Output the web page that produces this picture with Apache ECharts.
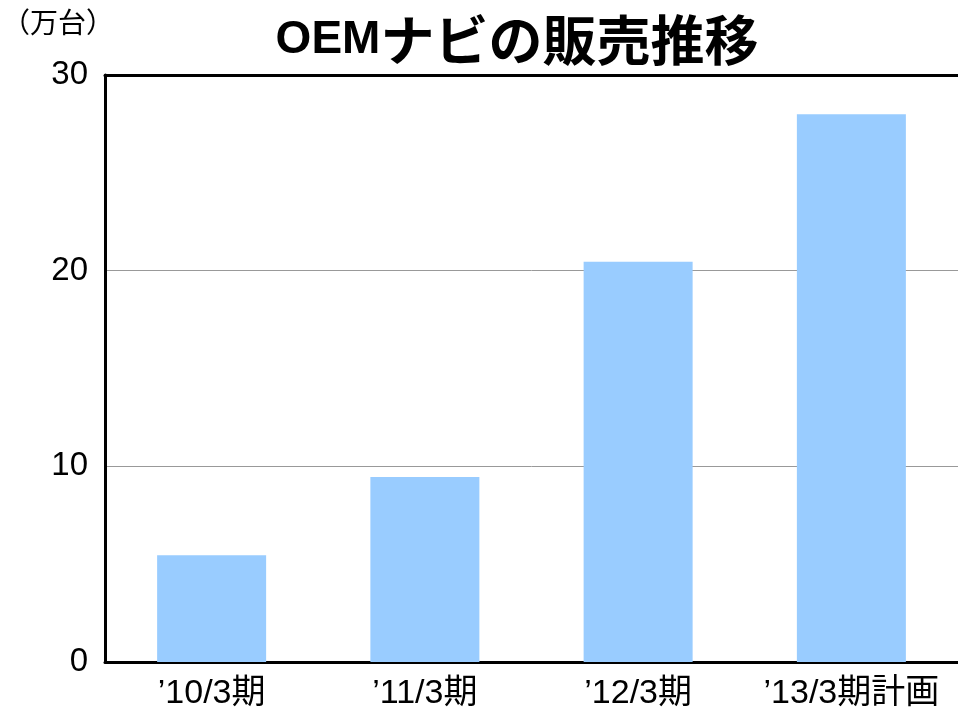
<!DOCTYPE html>
<html>
<head>
<meta charset="utf-8">
<script src="https://cdn.jsdelivr.net/npm/echarts@6/dist/echarts.min.js"></script>
<style>html,body{margin:0;padding:0;background:#fff;}#c{width:958px;height:713px;}</style>
</head>
<body>
<div id="c"></div>
<script>
const categories = ["\u201910/3期", "\u201911/3期", "\u201912/3期", "\u201913/3期計画"];
const sales = [5.45, 9.45, 20.45, 28.0];
const yTicks = [0, 10, 20, 30];

const chart = echarts.init(document.getElementById('c'));
const font = "Arial, 'Liberation Sans', 'Noto Sans CJK JP', sans-serif";
chart.setOption({
  animation: false,
  backgroundColor: '#fff',
  title: {
    text: '{a|OEM}{b|ナビの販売推移}',
    left: 512, top: 8, textAlign: 'center',
    textStyle: {
      rich: {
        a: { fontFamily: "Arial, 'Liberation Sans', sans-serif", fontWeight: 'bold', fontSize: 46, color: '#000' },
        b: { fontFamily: "'Noto Sans CJK JP', sans-serif", fontWeight: 'bold', fontSize: 54, color: '#000' }
      }
    }
  },
  graphic: [{
    type: 'text', left: 2, top: 8,
    style: { text: '（万台）', font: "28px 'Noto Sans CJK JP', sans-serif", fill: '#000' }
  }],
  grid: { left: 105, top: 75, width: 857, bottom: 51, containLabel: false },
  xAxis: [{
    type: 'category', data: categories,
    axisLine: { show: true, lineStyle: { color: '#000', width: 3 } },
    axisTick: { show: false },
    axisLabel: { fontFamily: font, fontSize: 34, color: '#000', margin: 15, interval: 0 }
  }, {
    type: 'category', data: categories, position: 'top',
    axisLine: { show: true, lineStyle: { color: '#000', width: 3 } },
    axisTick: { show: false }, axisLabel: { show: false }
  }],
  yAxis: {
    type: 'value', min: 0, max: 30, interval: 10,
    axisLine: { show: true, lineStyle: { color: '#000', width: 3 } },
    axisTick: { show: false },
    splitLine: { show: true, lineStyle: { color: '#999', width: 1 } },
    axisLabel: {
      fontFamily: font, fontSize: 33, color: '#000', margin: 17,
      formatter: v => yTicks.includes(v) ? String(v) : ''
    }
  },
  series: [{
    type: 'bar', data: sales, barWidth: 109,
    itemStyle: { color: '#99CCFF' }
  }]
});
</script>
</body>
</html>
